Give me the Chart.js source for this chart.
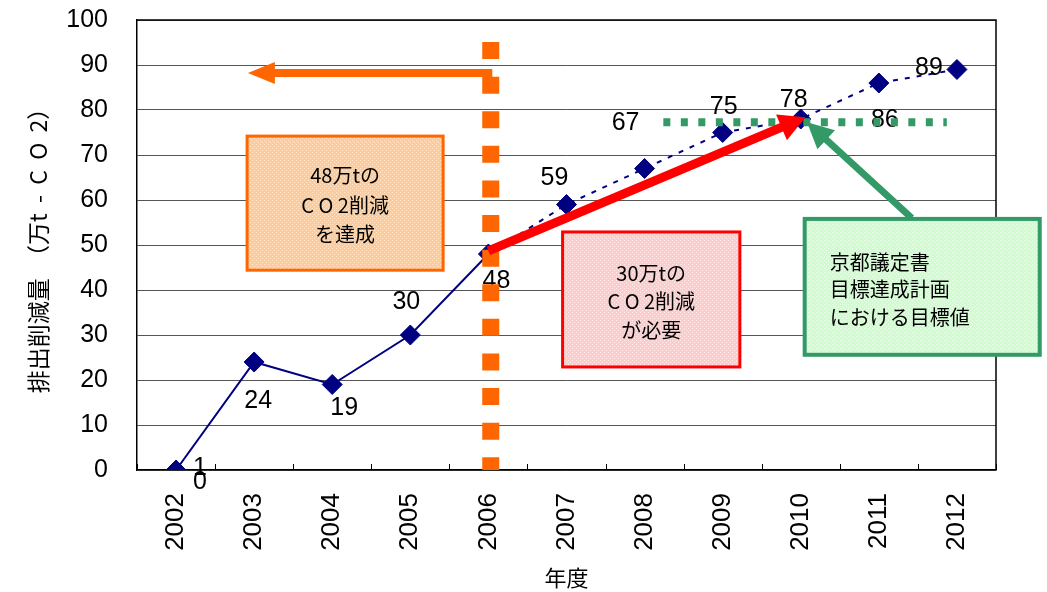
<!DOCTYPE html>
<html>
<head>
<meta charset="utf-8">
<script src="https://cdn.jsdelivr.net/npm/chart.js@4"></script>
<style>
  html, body { margin: 0; padding: 0; background: #fff; }
  #wrap { width: 1047px; height: 592px; }
</style>
</head>
<body>
<div id="wrap"><canvas id="chart" width="1047" height="592"></canvas></div>
<script>
// 年度ごとの排出削減量（万t-CO2）
const years = ['2002', '2003', '2004', '2005', '2006', '2007', '2008', '2009', '2010', '2011', '2012'];
const reduction = [0, 24, 19, 30, 48, 59, 67, 75, 78, 86, 89];
const pointLabels = ['1\n0', '24', '19', '30', '48', '59', '67', '75', '78', '86', '89'];
const yTickStep = 10;
const yMax = 100;
// 京都議定書目標達成計画における目標値
const targetValue = 77.3;
// 実績の最終年度（ここから先は点線）
const actualLastIndex = 4;

const boxTexts = {
  achieved: ['48万tの', 'C O 2削減', 'を達成'],
  required: ['30万tの', 'C O 2削減', 'が必要'],
  target: ['京都議定書', '目標達成計画', 'における目標値']
};

// label placement around each point (px offset from the marker)
const labelOffsets = [[24, 5], [4, 39], [12, 24], [-4, -33], [8, 27], [-12, -26], [-19, -45], [1, -25], [-7, -19], [6, 37], [-28, -1]];

const canvas = document.getElementById('chart');
const ctx = canvas.getContext('2d');

function dotted(base, dot) {
  const c = document.createElement('canvas');
  c.width = 4; c.height = 4;
  const g = c.getContext('2d');
  g.fillStyle = base; g.fillRect(0, 0, 4, 4);
  g.fillStyle = dot; g.fillRect(0, 0, 1, 1); g.fillRect(2, 2, 1, 1);
  return ctx.createPattern(c, 'repeat');
}

function arrow(g, x0, y0, x1, y1, color, width, headLen, headHalf) {
  const a = Math.atan2(y1 - y0, x1 - x0);
  const bx = x1 - headLen * Math.cos(a), by = y1 - headLen * Math.sin(a);
  g.save();
  g.strokeStyle = color; g.lineWidth = width; g.lineCap = 'butt';
  g.beginPath(); g.moveTo(x0, y0); g.lineTo(bx + Math.cos(a), by + Math.sin(a)); g.stroke();
  g.fillStyle = color;
  g.beginPath();
  g.moveTo(x1, y1);
  g.lineTo(bx + headHalf * Math.sin(a), by - headHalf * Math.cos(a));
  g.lineTo(bx - headHalf * Math.sin(a), by + headHalf * Math.cos(a));
  g.closePath(); g.fill();
  g.restore();
}

function textBox(g, sx, sy, b, fill, stroke, lw, lines, align) {
  const x0 = sx(b.x0), x1 = sx(b.x1), y0 = sy(b.y0), y1 = sy(b.y1);
  g.save();
  g.fillStyle = fill;
  g.fillRect(x0, y0, x1 - x0, y1 - y0);
  g.strokeStyle = stroke; g.lineWidth = lw;
  g.strokeRect(x0, y0, x1 - x0, y1 - y0);
  g.fillStyle = '#000';
  g.font = '20px "Noto Sans CJK JP"';
  g.textBaseline = 'middle';
  const cy = (y0 + y1) / 2 + b.dy;
  lines.forEach((t, i) => {
    const ly = cy + (i - (lines.length - 1) / 2) * b.lh;
    if (align === 'left') { g.textAlign = 'left'; g.fillText(t, x0 + b.pad, ly); }
    else { g.textAlign = 'center'; g.fillText(t, (x0 + x1) / 2, ly); }
  });
  g.restore();
}

const annotations = {
  id: 'annotations',
  beforeDatasetsDraw(chart) {
    const g = chart.ctx, a = chart.chartArea;
    const sx = v => chart.scales.x.getPixelForValue(v);
    const sy = v => chart.scales.y.getPixelForValue(v);
    g.save();
    // plot frame (top / right) and inward category ticks
    g.strokeStyle = '#000'; g.lineWidth = 1.5;
    g.beginPath(); g.moveTo(a.left, a.top); g.lineTo(a.right, a.top); g.lineTo(a.right, a.bottom); g.stroke();
    g.lineWidth = 1;
    for (let i = 0; i <= years.length; i++) {
      const x = Math.round(sx(i - 0.5)) + 0.5;
      g.beginPath(); g.moveTo(x, a.bottom); g.lineTo(x, a.bottom - 6); g.stroke();
    }
    g.restore();
    textBox(g, sx, sy, { x0: 0.91, x1: 3.42, y0: 74.2, y1: 44.4, dy: 2, lh: 29.5 },
      dotted('#FFCC99', '#FFE6CC'), '#FF6600', 3, boxTexts.achieved, 'center');
    textBox(g, sx, sy, { x0: 4.95, x1: 7.22, y0: 52.9, y1: 22.9, dy: 2, lh: 28.5 },
      dotted('#FFCCCC', '#FFEBEB'), '#FF0000', 3, boxTexts.required, 'center');
  },
  afterDatasetsDraw(chart) {
    const g = chart.ctx;
    const sx = v => chart.scales.x.getPixelForValue(v);
    const sy = v => chart.scales.y.getPixelForValue(v);
    const meta = chart.getDatasetMeta(0);
    // value labels
    g.save();
    g.fillStyle = '#000';
    g.font = '25px "Liberation Sans"';
    g.textAlign = 'center'; g.textBaseline = 'middle';
    meta.data.forEach((pt, i) => {
      const lines = pointLabels[i].split('\n');
      const [ox, oy] = labelOffsets[i];
      lines.forEach((t, k) => {
        const ly = pt.y + oy + (k - (lines.length - 1) / 2) * 14;
        g.fillText(t, pt.x + ox, ly);
      });
    });
    g.restore();

    g.save();
    // 2006 boundary: dashed vertical line
    g.strokeStyle = '#FF6600'; g.lineWidth = 17; g.setLineDash([17, 17.6]);
    g.beginPath(); g.moveTo(sx(4.03), sy(95.1)); g.lineTo(sx(4.03), sy(0)); g.stroke();
    g.setLineDash([]);
    // target level: dotted green line
    g.strokeStyle = '#339966'; g.lineWidth = 8; g.setLineDash([7, 10.5]);
    g.beginPath(); g.moveTo(sx(6.24), sy(targetValue)); g.lineTo(sx(9.87), sy(targetValue)); g.stroke();
    g.restore();

    arrow(g, sx(4.05), sy(88.2), sx(0.92), sy(88.2), '#FF6600', 8, 27, 11);
    arrow(g, sx(4.0), sy(48.7), sx(8.06), sy(78.4), '#FF0000', 9, 26, 14);

    textBox(g, sx, sy, { x0: 8.05, x1: 11.06, y0: 55.8, y1: 25.6, dy: 3, lh: 27.5, pad: 25 },
      dotted('#CCFFCC', '#EEFFEE'), '#339966', 4, boxTexts.target, 'left');
    arrow(g, sx(9.42), sy(56.0), sx(8.08), sy(targetValue), '#339966', 7, 26, 13);
  }
};

new Chart(ctx, {
  type: 'line',
  data: {
    labels: years,
    datasets: [{
      data: reduction,
      borderColor: '#000080',
      backgroundColor: '#000080',
      borderWidth: 2,
      pointStyle: 'rectRot',
      pointRadius: 10,
      pointHoverRadius: 10,
      pointBorderWidth: 1,
      tension: 0,
      fill: false,
      segment: {
        borderDash: c => (c.p0DataIndex >= actualLastIndex ? [5, 7] : undefined)
      }
    }]
  },
  options: {
    responsive: false,
    animation: false,
    events: [],
    layout: { padding: { top: 20, right: 51, bottom: 0, left: 0 } },
    plugins: { legend: { display: false }, tooltip: { enabled: false } },
    scales: {
      x: {
        offset: true,
        grid: { display: false, drawTicks: false },
        border: { color: '#000', width: 1.5 },
        ticks: {
          minRotation: 90, maxRotation: 90, padding: 23, color: '#000',
          font: { family: 'Liberation Sans', size: 26 }
        },
        title: {
          display: true, text: '年度', color: '#000',
          font: { family: 'Noto Sans CJK JP', size: 22 },
          padding: { top: 0, bottom: 1 }
        },
        afterFit: s => { s.height = 122; }
      },
      y: {
        min: 0, max: yMax,
        grid: { color: '#555', drawTicks: false },
        border: { color: '#000', width: 1.5 },
        ticks: {
          stepSize: yTickStep, padding: 29, color: '#000',
          font: { family: 'Liberation Sans', size: 25 }
        },
        title: {
          display: true, text: '排出削減量  （万t  -  C  O  2）', color: '#000',
          font: { family: 'Noto Sans CJK JP', size: 23 },
          padding: { top: 24, bottom: 0 }
        },
        afterFit: s => { s.width = 137; s.paddingTop = 0; s.paddingBottom = 0; }
      }
    }
  },
  plugins: [annotations]
});
</script>
</body>
</html>
